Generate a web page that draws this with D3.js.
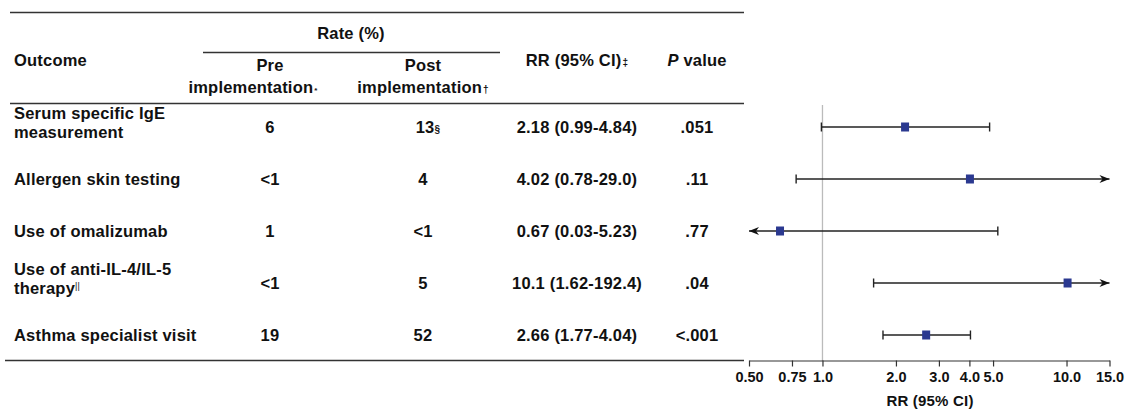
<!DOCTYPE html>
<html><head><meta charset="utf-8">
<script src="https://cdn.jsdelivr.net/npm/d3@7"></script>
<style>body{margin:0;background:#fff}svg{display:block}text{font-family:"Liberation Sans",Arial,sans-serif;font-weight:bold;fill:#111;letter-spacing:0.2px}</style>
</head><body>
<svg id="c" width="1128" height="416"></svg>
<script>
const outcomes = [["Serum specific IgE","measurement"],["Allergen skin testing"],["Use of omalizumab"],["Use of anti-IL-4/IL-5","therapy"],["Asthma specialist visit"]];
const outcomeMarks = ["","","","||",""];
const preRates = ["6","<1","1","<1","19"];
const postRates = ["13","4","<1","5","52"];
const postMarks = ["§","","","",""];
const rr = [2.18, 4.02, 0.67, 10.1, 2.66];
const lower = [0.99, 0.78, 0.03, 1.62, 1.77];
const upper = [4.84, 29.0, 5.23, 192.4, 4.04];
const rrLabels = ["2.18 (0.99-4.84)","4.02 (0.78-29.0)","0.67 (0.03-5.23)","10.1 (1.62-192.4)","2.66 (1.77-4.04)"];
const pValues = [".051",".11",".77",".04","<.001"];
const tickValues = [0.5,0.75,1,2,3,4,5,10,15];
const tickLabels = ["0.50","0.75","1.0","2.0","3.0","4.0","5.0","10.0","15.0"];

const svg = d3.select("#c");
const x = d3.scaleLog().domain([0.5,15]).range([749,1109.5]);
const y = d3.scalePoint().domain(d3.range(outcomes.length)).range([127,335]);
const fs = 16.5;

// rules
const rule = (x1,x2,yy)=>svg.append("line").attr("x1",x1).attr("x2",x2).attr("y1",yy).attr("y2",yy).attr("stroke","#333").attr("stroke-width",1.5);
rule(10,744,12.5); rule(203,500,52.5); rule(10,744,103.5); rule(5,744,360.5);

// header
const hdr = (t,xx,yy,anchor="middle")=>svg.append("text").attr("x",xx).attr("y",yy).attr("text-anchor",anchor).attr("font-size",fs).text(t);
hdr("Rate (%)",351,39);
hdr("Outcome",14,66,"start");
hdr("Pre",270,71);
let t = svg.append("text").attr("x",253).attr("y",93).attr("text-anchor","middle").attr("font-size",fs);
t.append("tspan").text("implementation");
t.append("tspan").attr("font-size",8).attr("dx",1).text("*");
hdr("Post",423,71);
t = svg.append("text").attr("x",423).attr("y",93).attr("text-anchor","middle").attr("font-size",fs);
t.append("tspan").text("implementation");
t.append("tspan").attr("font-size",10).attr("dx",1).text("†");
t = svg.append("text").attr("x",577).attr("y",66).attr("text-anchor","middle").attr("font-size",fs);
t.append("tspan").text("RR (95% CI)");
t.append("tspan").attr("font-size",10).attr("dx",1).text("‡");
t = svg.append("text").attr("x",697).attr("y",66).attr("text-anchor","middle").attr("font-size",fs);
t.append("tspan").attr("font-style","italic").text("P");
t.append("tspan").text(" value");

// rows
outcomes.forEach((lines,i)=>{
  const cy = y(i);
  const tt = svg.append("text").attr("font-size",fs).attr("x",14);
  if(lines.length===1){
    tt.attr("y",cy+6).text(lines[0]);
  } else {
    tt.attr("y",cy-8);
    tt.append("tspan").attr("x",14).attr("dy",0).text(lines[0]);
    tt.append("tspan").attr("x",14).attr("dy",19).text(lines[1]);
    if(outcomeMarks[i]) tt.append("tspan").attr("font-size",9).attr("font-weight","normal").attr("dy",-5).text(outcomeMarks[i]);
  }
  svg.append("text").attr("font-size",fs).attr("x",270).attr("y",cy+6).attr("text-anchor","middle").text(preRates[i]);
  const pt = svg.append("text").attr("font-size",fs).attr("x",postMarks[i]?428:423).attr("y",cy+6).attr("text-anchor","middle");
  pt.append("tspan").text(postRates[i]);
  if(postMarks[i]) pt.append("tspan").attr("font-size",10).text(postMarks[i]);
  svg.append("text").attr("font-size",fs).attr("x",577).attr("y",cy+6).attr("text-anchor","middle").text(rrLabels[i]);
  svg.append("text").attr("font-size",fs).attr("x",697).attr("y",cy+6).attr("text-anchor","middle").text(pValues[i]);
});

// reference line
svg.append("line").attr("x1",x(1)).attr("x2",x(1)).attr("y1",105).attr("y2",361).attr("stroke","#bbb").attr("stroke-width",1.3);

// axis
const ax = svg.append("g").attr("transform","translate(0,360.5)")
  .call(d3.axisBottom(x).tickValues(tickValues).tickFormat((d,i)=>tickLabels[i]).tickSize(6).tickSizeOuter(0).tickPadding(5));
ax.select(".domain").attr("stroke","#333").attr("stroke-width",1.2);
ax.selectAll(".tick line").attr("stroke","#333").attr("stroke-width",1.2);
ax.selectAll(".tick text").attr("font-size",14.5).attr("font-family","Liberation Sans, Arial, sans-serif").attr("font-weight","bold").attr("fill","#111").style("letter-spacing","0px");
svg.append("text").attr("x",930).attr("y",406).attr("text-anchor","middle").attr("font-size",15).text("RR (95% CI)");

// CIs
const [dmin,dmax] = x.domain();
const g = svg.append("g");
rr.forEach((v,i)=>{
  const cy = y(i);
  const lo = Math.max(lower[i],dmin), hi = Math.min(upper[i],dmax);
  g.append("line").attr("x1",x(lo)).attr("x2",x(hi)).attr("y1",cy).attr("y2",cy).attr("stroke","#222").attr("stroke-width",1.6);
  if(lower[i]<dmin){
    const xa=x(dmin);
    g.append("path").attr("d",`M${xa},${cy} L${xa+10},${cy-4} L${xa+7},${cy} L${xa+10},${cy+4}Z`).attr("fill","#111");
  } else {
    g.append("line").attr("x1",x(lo)).attr("x2",x(lo)).attr("y1",cy-4.5).attr("y2",cy+4.5).attr("stroke","#222").attr("stroke-width",1.4);
  }
  if(upper[i]>dmax){
    const xa=x(dmax);
    g.append("path").attr("d",`M${xa},${cy} L${xa-10},${cy-4} L${xa-7},${cy} L${xa-10},${cy+4}Z`).attr("fill","#111");
  } else {
    g.append("line").attr("x1",x(hi)).attr("x2",x(hi)).attr("y1",cy-4.5).attr("y2",cy+4.5).attr("stroke","#222").attr("stroke-width",1.4);
  }
  g.append("rect").attr("x",x(v)-4).attr("y",cy-4.5).attr("width",8).attr("height",9).attr("fill","#2b3990");
});
</script>
</body></html>
